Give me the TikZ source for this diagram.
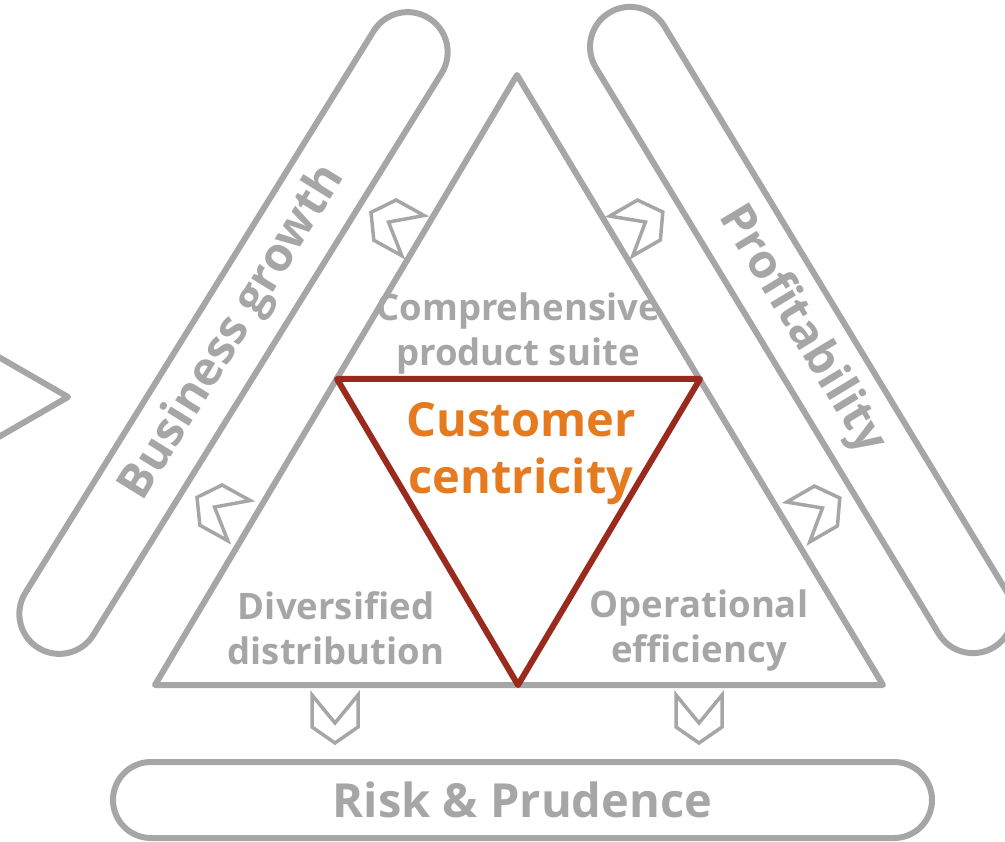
\documentclass[tikz,border=0pt]{standalone}
\usepackage{fontspec}
\setmainfont{Open Sans}
\usetikzlibrary{shapes.misc}
\definecolor{lgray}{HTML}{A6A6A6}
\definecolor{dred}{HTML}{9B2A1E}
\definecolor{corange}{HTML}{E67A1E}
\begin{document}
\begin{tikzpicture}[x=1pt,y=-1pt,
  bar/.style={draw=lgray, line width=6pt, rounded rectangle, minimum height=80pt, inner sep=0pt, text=lgray, font=\bfseries\fontsize{47}{47}\selectfont},
  chev/.style={draw=lgray, line width=3.5pt, line join=miter},
  lab/.style={text=lgray, font=\bfseries\fontsize{36.5}{45}\selectfont, align=center},
  edge/.style={draw=lgray, line width=6pt, line join=round, line cap=round},
  chevron/.pic={\draw[chev] (-24,-23) -- (4,0) -- (-24,23) -- (8,23) -- (24,0) -- (8,-23) -- cycle;}
]
\useasboundingbox (0,0) rectangle (1005,842);
% bars
\node[bar, minimum width=741pt, rotate=58.2] (growth) at (233.5,333) {Business growth};
\node[bar, minimum width=742pt, rotate=-58.8] (profit) at (801.5,330) {Profitability};
\node[bar, minimum width=819pt, minimum height=76pt] (risk) at (522.5,800) {Risk \& Prudence};
% main triangle
\coordinate (A) at (517,75);
\coordinate (B) at (155,685);
\coordinate (C) at (883,685);
\draw[edge] (A) -- (B) -- (C) -- cycle;
% inner red triangle
\coordinate (P) at (337,379);
\coordinate (Q) at (700,379);
\coordinate (R) at (518,685);
\draw[dred, line width=6pt, line join=round] (P) -- (Q) -- (R) -- cycle;
% partial arrow on the left
\coordinate (l1) at (-10,352);
\coordinate (ltip) at (68,397);
\coordinate (l2) at (-10,442);
\draw[edge] (l1) -- (ltip) -- (l2);
% chevrons
\pic[rotate=151] at (392,224) {chevron};
\pic[rotate=151] at (218,509) {chevron};
\pic[rotate=30] at (642,224) {chevron};
\pic[rotate=30] at (819,510) {chevron};
\pic[rotate=-90] at (335,719) {chevron};
\pic[rotate=-90] at (699,719) {chevron};
% labels
\node[lab] (comp) at (518,334) {Comprehensive\\product suite};
\node[lab] (div) at (336,628) {Diversified\\distribution};
\node[lab] (ops) at (699,631) {Operational\\efficiency};
\node[text=corange, font=\bfseries\fontsize{47}{57}\selectfont, align=center] (cc) at (521,454) {Customer\\centricity};
\end{tikzpicture}
\end{document}
